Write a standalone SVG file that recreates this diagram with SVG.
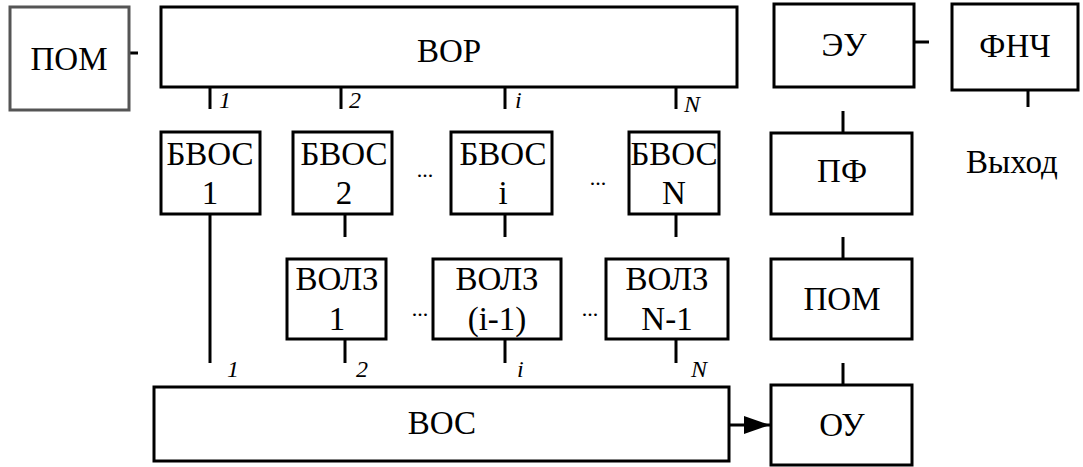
<svg xmlns="http://www.w3.org/2000/svg" width="1083" height="467" viewBox="0 0 1083 467">
<defs>
<marker id="arr" markerWidth="26" markerHeight="18" refX="26" refY="9" orient="auto" markerUnits="userSpaceOnUse"><path d="M0,0 L26,9 L0,18 Z" fill="#000"/></marker>
</defs>
<rect width="1083" height="467" fill="#fff"/>
<g id="connectors" stroke="#000" stroke-width="3" fill="none">
<line x1="129" y1="53" x2="138" y2="53"/>
<line x1="210" y1="87" x2="210" y2="109"/>
<line x1="341" y1="87" x2="341" y2="109"/>
<line x1="505" y1="87" x2="505" y2="109"/>
<line x1="676" y1="87" x2="676" y2="109"/>
<line x1="210" y1="214" x2="210" y2="363"/>
<line x1="345" y1="214" x2="345" y2="237"/>
<line x1="505" y1="214" x2="505" y2="237"/>
<line x1="676" y1="214" x2="676" y2="237"/>
<line x1="345" y1="339" x2="345" y2="363"/>
<line x1="505" y1="339" x2="505" y2="363"/>
<line x1="676" y1="339" x2="676" y2="363"/>
<line x1="729" y1="425" x2="770" y2="425" marker-end="url(#arr)"/>
<line x1="914" y1="42" x2="929" y2="42"/>
<line x1="1028" y1="90" x2="1028" y2="107"/>
<line x1="843" y1="111" x2="843" y2="133"/>
<line x1="843" y1="237" x2="843" y2="259"/>
<line x1="843" y1="363" x2="843" y2="385"/>
</g>
<g id="labels" fill="#000" stroke="none">
<text style="font-family:'Liberation Serif',serif !important;font-style:italic;font-size:24px" x="219" y="108">1</text>
<text style="font-family:'Liberation Serif',serif !important;font-style:italic;font-size:24px" x="349" y="108">2</text>
<text style="font-family:'Liberation Serif',serif !important;font-style:italic;font-size:24px" x="515" y="108">i</text>
<text style="font-family:'Liberation Serif',serif !important;font-style:italic;font-size:24px" x="684" y="112">N</text>
<text style="font-family:'Liberation Serif',serif !important;font-style:italic;font-size:24px" x="227" y="377">1</text>
<text style="font-family:'Liberation Serif',serif !important;font-style:italic;font-size:24px" x="356" y="377">2</text>
<text style="font-family:'Liberation Serif',serif !important;font-style:italic;font-size:24px" x="517" y="377">i</text>
<text style="font-family:'Liberation Serif',serif !important;font-style:italic;font-size:24px" x="691" y="377">N</text>
<text style="font-family:'Liberation Serif',serif !important;font-size:22px;text-anchor:middle" x="425" y="177">...</text>
<text style="font-family:'Liberation Serif',serif !important;font-size:22px;text-anchor:middle" x="598" y="185">...</text>
<text style="font-family:'Liberation Serif',serif !important;font-size:22px;text-anchor:middle" x="420" y="316">...</text>
<text style="font-family:'Liberation Serif',serif !important;font-size:22px;text-anchor:middle" x="590" y="316">...</text>
</g>
<g id="pom1"><rect x="10" y="7" width="119" height="103" fill="#fff" stroke="#555" stroke-width="3"/><text style="font-family:'Liberation Serif',serif !important;font-size:33px;text-anchor:middle" x="69" y="70">ПОМ</text></g>
<g id="vor"><rect x="161" y="7" width="576" height="80" fill="#fff" stroke="#000" stroke-width="3"/><text style="font-family:'Liberation Serif',serif !important;font-size:33px;text-anchor:middle" x="449" y="62">ВОР</text></g>
<g id="bvos1"><rect x="161" y="132" width="99" height="82" fill="#fff" stroke="#000" stroke-width="3"/><text style="font-family:'Liberation Serif',serif !important;font-size:33px;text-anchor:middle" x="210" y="165">БВОС</text><text style="font-family:'Liberation Serif',serif !important;font-size:33px;text-anchor:middle" x="210" y="204">1</text></g>
<g id="bvos2"><rect x="293" y="132" width="99" height="82" fill="#fff" stroke="#000" stroke-width="3"/><text style="font-family:'Liberation Serif',serif !important;font-size:33px;text-anchor:middle" x="344" y="165">БВОС</text><text style="font-family:'Liberation Serif',serif !important;font-size:33px;text-anchor:middle" x="344" y="204">2</text></g>
<g id="bvosi"><rect x="451" y="132" width="101" height="82" fill="#fff" stroke="#000" stroke-width="3"/><text style="font-family:'Liberation Serif',serif !important;font-size:33px;text-anchor:middle" x="503" y="165">БВОС</text><text style="font-family:'Liberation Serif',serif !important;font-size:33px;text-anchor:middle" x="503" y="204">i</text></g>
<g id="bvosN"><rect x="629" y="132" width="90" height="82" fill="#fff" stroke="#000" stroke-width="3"/><text style="font-family:'Liberation Serif',serif !important;font-size:33px;text-anchor:middle" x="674" y="165">БВОС</text><text style="font-family:'Liberation Serif',serif !important;font-size:33px;text-anchor:middle" x="674" y="204">N</text></g>
<g id="volz1"><rect x="287" y="259" width="99" height="80" fill="#fff" stroke="#000" stroke-width="3"/><text style="font-family:'Liberation Serif',serif !important;font-size:33px;text-anchor:middle" x="337" y="290">ВОЛЗ</text><text style="font-family:'Liberation Serif',serif !important;font-size:33px;text-anchor:middle" x="337" y="330">1</text></g>
<g id="volzi"><rect x="433" y="259" width="128" height="80" fill="#fff" stroke="#000" stroke-width="3"/><text style="font-family:'Liberation Serif',serif !important;font-size:33px;text-anchor:middle" x="497" y="290">ВОЛЗ</text><text style="font-family:'Liberation Serif',serif !important;font-size:33px;text-anchor:middle" x="497" y="330">(i-1)</text></g>
<g id="volzN"><rect x="606" y="259" width="122" height="80" fill="#fff" stroke="#000" stroke-width="3"/><text style="font-family:'Liberation Serif',serif !important;font-size:33px;text-anchor:middle" x="667" y="290">ВОЛЗ</text><text style="font-family:'Liberation Serif',serif !important;font-size:33px;text-anchor:middle" x="667" y="330">N-1</text></g>
<g id="vos"><rect x="154" y="387" width="575" height="74" fill="#fff" stroke="#000" stroke-width="3"/><text style="font-family:'Liberation Serif',serif !important;font-size:33px;text-anchor:middle" x="442" y="434">ВОС</text></g>
<g id="eu"><rect x="774" y="4" width="140" height="83" fill="#fff" stroke="#000" stroke-width="3"/><text style="font-family:'Liberation Serif',serif !important;font-size:33px;text-anchor:middle" x="844" y="56">ЭУ</text></g>
<g id="fnch"><rect x="952" y="4" width="126" height="86" fill="#fff" stroke="#000" stroke-width="3"/><text style="font-family:'Liberation Serif',serif !important;font-size:33px;text-anchor:middle" x="1015" y="57">ФНЧ</text></g>
<g id="vyhod"><text style="font-family:'Liberation Serif',serif !important;font-size:33px;text-anchor:middle" x="1012" y="173">Выход</text></g>
<g id="pf"><rect x="771" y="133" width="141" height="81" fill="#fff" stroke="#000" stroke-width="3"/><text style="font-family:'Liberation Serif',serif !important;font-size:33px;text-anchor:middle" x="842" y="182">ПФ</text></g>
<g id="pom2"><rect x="771" y="259" width="141" height="80" fill="#fff" stroke="#000" stroke-width="3"/><text style="font-family:'Liberation Serif',serif !important;font-size:33px;text-anchor:middle" x="842" y="310">ПОМ</text></g>
<g id="ou"><rect x="771" y="385" width="141" height="80" fill="#fff" stroke="#000" stroke-width="3"/><text style="font-family:'Liberation Serif',serif !important;font-size:33px;text-anchor:middle" x="842" y="436">ОУ</text></g>
</svg>
